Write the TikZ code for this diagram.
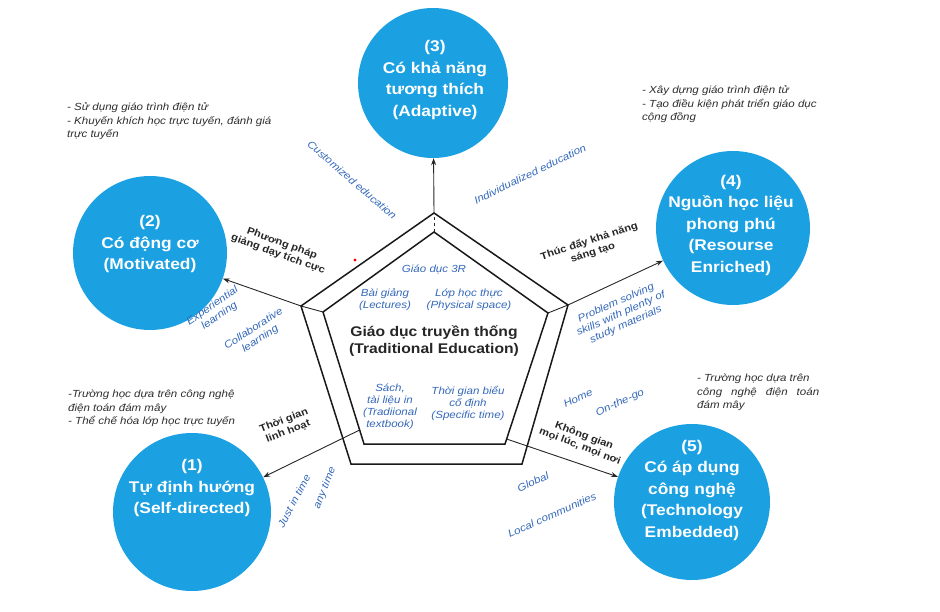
\documentclass[tikz,border=0pt]{standalone}
\usepackage{fontspec}
\setmainfont{Liberation Sans}[FakeStretch=1.12]
\usetikzlibrary{arrows.meta,calc}
\definecolor{cblue}{RGB}{27,161,226}
\definecolor{lblue}{RGB}{52,104,186}
\definecolor{notegray}{RGB}{45,45,45}
\begin{document}
\begin{tikzpicture}[x=1pt,y=-1pt,
  bigc/.style={circle,fill=cblue,inner sep=0pt},
  ctext/.style={text=white,font=\bfseries\fontsize{15.5}{21.5}\selectfont,align=center,inner sep=0pt},
  blab/.style={font=\bfseries\fontsize{10}{11.5}\selectfont,align=center,text=black!85,inner sep=0pt},
  bl/.style={font=\itshape\fontsize{10.3}{12}\selectfont,text=lblue,align=center,inner sep=0pt},
  note/.style={font=\itshape\fontsize{10.3}{13.5}\selectfont,text=notegray,align=left,anchor=north west,inner sep=0pt},
  conn/.style={draw=black!85,line width=0.9pt,-{Stealth[length=7pt,width=5pt]}},
  pent/.style={draw=black!90,line width=1.5pt,line join=miter}
]
\useasboundingbox (0,0) rectangle (940,612);

% pentagon vertices
\coordinate (ot) at (434,213);
\coordinate (ol) at (301,306);
\coordinate (or) at (568,305);
\coordinate (obl) at (351,464);
\coordinate (obr) at (522,464);
\coordinate (it) at (434,232);
\coordinate (il) at (323,312);
\coordinate (ir) at (548,313);
\coordinate (ibl) at (364,444);
\coordinate (ibr) at (505,444);
\coordinate (p1) at ($(il)!0.894!(ibl)$);
\coordinate (p5) at ($(ir)!0.962!(ibr)$);

% circles
\node[bigc,minimum size=150pt] (c3) at (433,83) {};
\node[bigc,minimum size=154pt] (c2) at (150,253) {};
\node[bigc,minimum size=154pt] (c4) at (733,228) {};
\node[bigc,minimum size=158pt] (c1) at (192,512) {};
\node[bigc,minimum size=156pt] (c5) at (692,502) {};

\node[ctext] (t3) at (435,80) {(3)\\Có khả năng\\tương thích\\(Adaptive)};
\node[ctext] (t2) at (150,244) {(2)\\Có động cơ\\(Motivated)};
\node[ctext] (t4) at (731,225) {(4)\\Nguồn học liệu\\phong phú\\(Resourse\\Enriched)};
\node[ctext] (t1) at (192,488) {(1)\\Tự định hướng\\(Self-directed)};
\node[ctext] (t5) at (692,490) {(5)\\Có áp dụng\\công nghệ\\(Technology\\Embedded)};

% connectors
\draw[conn] (il) -- (ol) -- (c2);
\draw[conn] (ir) -- (or) -- (c4);
\draw[draw=black!85,line width=0.8pt,dashed] (it) -- (ot);
\draw[conn] (ot) -- (c3);
\draw[conn] (p1) -- (c1);
\draw[conn] (p5) -- (c5);

% pentagons
\draw[pent] (ot) -- (or) -- (obr) -- (obl) -- (ol) -- cycle;
\draw[pent,fill=white] (it) -- (ir) -- (ibr) -- (ibl) -- (il) -- cycle;

% center texts
\node[font=\bfseries\fontsize{14}{17.5}\selectfont,text=black!85,align=center] (te) at (434,341) {Giáo dục truyền thống\\(Traditional Education)};
\node[bl] (g3r) at (434,269) {Giáo dục 3R};
\node[bl] (lec) at (385,300) {Bài giảng\\(Lectures)};
\node[bl] (phy) at (469,300) {Lớp học thực\\(Physical space)};
\node[bl] (tex) at (390,407) {Sách,\\tài liệu in\\(Tradiional\\textbook)};
\node[bl] (spe) at (468,403) {Thời gian biểu\\cố định\\(Specific time)};

% blue rotated labels
\node[bl,rotate=-41] (cus) at (352,180) {Customized education};
\node[bl,rotate=26] (ind) at (530,174) {Individualized education};
\node[bl,rotate=35] (exp) at (216,311) {Experiential\\learning};
\node[bl,rotate=33] (col) at (257,334) {Collaborative\\learning};
\node[bl,rotate=24] (pro) at (621,314) {Problem solving\\skills with plenty of\\study materials};
\node[bl,rotate=25] (hom) at (578,398) {Home};
\node[bl,rotate=25] (otg) at (620,403) {On-the-go};
\node[bl,rotate=25] (glo) at (533,482) {Global};
\node[bl,rotate=24] (loc) at (552,515) {Local communities};
\node[bl,rotate=62] (jit) at (294,501) {Just in time};
\node[bl,rotate=68] (any) at (325,488) {any time};

% black labels
\node[blab,rotate=-20] (ppg) at (280,249) {Phương pháp\\giảng dạy tích cực};
\node[blab,rotate=18] (tdk) at (591,247) {Thúc đẩy khả năng\\sáng tạo};
\node[blab,rotate=21] (tgl) at (286,426) {Thời gian\\linh hoạt};
\node[blab,rotate=-21] (kgm) at (582,441) {Không gian\\mọi lúc, mọi nơi};

% notes
\node[note] (n1) at (67,103) {- Sử dụng giáo trình điện tử\\- Khuyến khích học trực tuyến, đánh giá\\trực tuyến};
\node[note] (n2) at (642,86) {- Xây dựng giáo trình điện tử\\- Tạo điều kiện phát triển giáo dục\\cộng đồng};
\node[note] (n3) at (68,390) {-Trường học dựa trên công nghệ\\điện toán đám mây\\- Thể chế hóa lớp học trực tuyến};
\node[note] (n4) at (697,374) {- Trường học dựa trên\\\makebox[122pt][s]{công nghệ điện toán}\\đám mây};

% small red dot
\fill[red] (355,260) circle (1.6pt);
\end{tikzpicture}
\end{document}
